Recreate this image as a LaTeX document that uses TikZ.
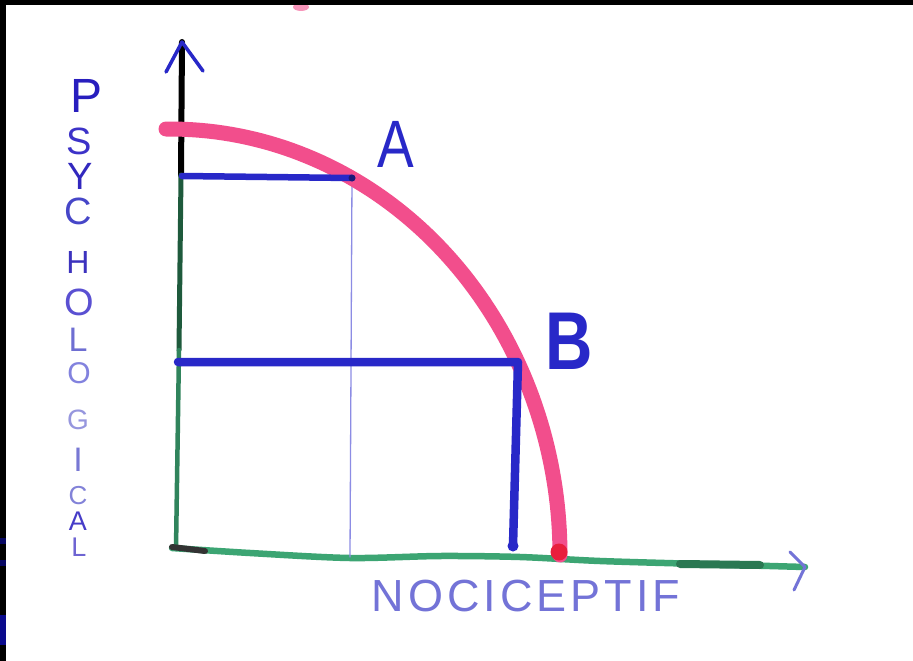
\documentclass[tikz,border=0pt]{standalone}
\usepackage{fontspec}
\setmainfont{Liberation Sans}
\definecolor{pinkc}{RGB}{242,78,140}
\definecolor{reddot}{RGB}{232,30,60}
\definecolor{blueA}{RGB}{40,40,200}
\definecolor{thinblue}{RGB}{140,140,228}
\definecolor{greenax}{RGB}{60,165,115}
\definecolor{dkgreen}{RGB}{30,90,60}
\definecolor{textblue}{RGB}{115,115,215}
\definecolor{navyedge}{RGB}{10,10,140}
\tikzset{
  vletter/.style={inner sep=0pt, font=\fontsize{#1}{#1}\selectfont},
  biglabel/.style={inner sep=0pt, text=blueA},
}
\begin{document}
\begin{tikzpicture}[x=1pt,y=-1pt, line cap=round, line join=round]
\useasboundingbox (0,0) rectangle (913,661);
\fill[white] (0,0) rectangle (913,661);
% small pink mark at the top edge
\fill[pinkc!60] (301,7) ellipse (8 and 4);
% frame bands
\fill[black] (0,0) rectangle (913,5);
\fill[black] (0,0) rectangle (6,661);
\fill[navyedge] (0,615) rectangle (6,645);
\fill[navyedge!70!black] (0,538) rectangle (6,544);
\fill[navyedge!70!black] (0,560) rectangle (6,566);

% key points
\coordinate (O) at (176,549);
\coordinate (ytip) at (182,42);
\coordinate (xtip) at (805,567);
\coordinate (A) at (352,178);
\coordinate (B) at (518,362);
\coordinate (Ay) at (182,176);
\coordinate (By) at (178,362);
\coordinate (Ax) at (350,557);
\coordinate (Bx) at (513,546);

% vertical axis
\draw[black, line width=6] (ytip) -- (181,175);
\draw[dkgreen, line width=5] (181,175) -- (179,350);
\draw[greenax!80!black, line width=4.5] (179,350) -- (O);
\draw[blueA, line width=3.5] (166,72) -- (ytip) -- (203,71);

% horizontal axis
\draw[greenax, line width=6.5] plot[smooth] coordinates {(172,548) (250,553) (350,558) (440,556) (520,557) (600,561) (700,564) (xtip)};
\draw[black!80, line width=6] (172,547) -- (205,551);
\draw[dkgreen!60!greenax, line width=8] (680,564) -- (760,565);
\draw[textblue, line width=3] (790,552) -- (xtip) -- (794,590);

% thin guide through A
\draw[thinblue, line width=1.3] (A) -- (Ax);

% pink curve (quarter ellipse)
\draw[pinkc, line width=15] (166,129) -- (170,129)
  -- plot[domain=90:0, samples=80] ({170+390*cos(\x)}, {555-426*sin(\x)});
\fill[reddot] (559,552) circle (8.5);

% A projection
\draw[blueA, line width=6.5] (Ay) -- (A);
\fill[blueA!60!black] (A) circle (3.5);

% B projection
\draw[blueA, line width=8.5] (By) -- (B) -- (Bx);
\fill[blueA] (Bx) circle (5.5);

% labels A and B
\node[biglabel, font=\fontsize{67}{67}\selectfont, xscale=0.82] (labA) at (396,144) {A};
\node[biglabel, font=\bfseries\fontsize{82}{82}\selectfont, xscale=0.8] (labB) at (569,341) {B};

% vertical axis title
\node[vletter=48, text={rgb,255:red,40;green,30;blue,190}] (p1) at (87,96) {P};
\node[vletter=38, text={rgb,255:red,60;green,50;blue,200}] (p2) at (79,141) {S};
\node[vletter=38, text={rgb,255:red,50;green,40;blue,190}] (p3) at (80,176) {Y};
\node[vletter=38, text={rgb,255:red,70;green,70;blue,200}] (p4) at (78,211) {C};
\node[vletter=32, text={rgb,255:red,60;green,50;blue,190}] (p5) at (78,262) {H};
\node[vletter=38, text={rgb,255:red,90;green,80;blue,210}] (p6) at (79,302) {O};
\node[vletter=34, text={rgb,255:red,110;green,110;blue,210}] (p7) at (78,340) {L};
\node[vletter=30, text={rgb,255:red,130;green,130;blue,222}] (p8) at (79,373) {O};
\node[vletter=28, text={rgb,255:red,150;green,150;blue,222}] (p9) at (78,420) {G};
\node[vletter=34, text={rgb,255:red,120;green,120;blue,212}] (p10) at (78,460) {I};
\node[vletter=26, text={rgb,255:red,130;green,130;blue,216}] (p11) at (78,496) {C};
\node[vletter=27, text={rgb,255:red,70;green,60;blue,200}] (p12) at (78,521) {A};
\node[vletter=27, text={rgb,255:red,110;green,100;blue,210}] (p13) at (79,547) {L};

% horizontal axis title
\node[inner sep=0pt, text=textblue, font=\fontsize{45}{45}\selectfont\addfontfeature{LetterSpace=9}] (xlab) at (526,596) {NOCICEPTIF};
\end{tikzpicture}
\end{document}
